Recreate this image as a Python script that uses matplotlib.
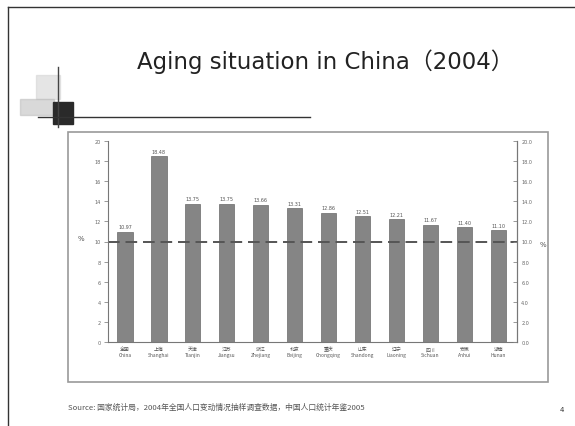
import matplotlib
matplotlib.use("Agg")
import matplotlib.pyplot as plt
from matplotlib.patches import Rectangle
from matplotlib.lines import Line2D
import numpy as np

plt.rcParams['font.family'] = ['DejaVu Sans', 'Noto Sans CJK SC']

# data (share of population aged 60+, %)
regions = ['全国', '上海', '天津', '江苏', '浙江', '北京',
           '重庆', '山东', '辽宁', '四川', '安徽', '湖南']
regions_en = ['China', 'Shanghai', 'Tianjin', 'Jiangsu', 'Zhejiang', 'Beijing',
              'Chongqing', 'Shandong', 'Liaoning', 'Sichuan', 'Anhui', 'Hunan']
values = [10.97, 18.48, 13.75, 13.75, 13.66, 13.31,
          12.86, 12.51, 12.21, 11.67, 11.40, 11.10]
yticks = [0, 2, 4, 6, 8, 10, 12, 14, 16, 18, 20]
threshold = 10

W, H = 575, 427
fig = plt.figure(figsize=(W / 100, H / 100), dpi=100)

def px(x0, y0, x1, y1):
    # pixel box (top-left origin) -> figure fraction rect
    return [x0 / W, 1 - y1 / H, (x1 - x0) / W, (y1 - y0) / H]

# slide border
fig.add_artist(Line2D([8 / W, 1], [1 - 8 / H, 1 - 8 / H], color='#333333', lw=1.0))
fig.add_artist(Line2D([8 / W, 8 / W], [1 - 8 / H, 0], color='#333333', lw=1.0))

# decoration top-left
fig.add_artist(Rectangle((36 / W, 1 - 100 / H), 24 / W, 24 / H, color='#d5d5d5', alpha=0.6))
fig.add_artist(Rectangle((20 / W, 1 - 116 / H), 34 / W, 16 / H, color='#bbbbbb', alpha=0.55))
fig.add_artist(Rectangle((53 / W, 1 - 125 / H), 20 / W, 22 / H, color='#2a2a2a'))
fig.add_artist(Line2D([58 / W, 58 / W], [1 - 68 / H, 1 - 128 / H], color='#444444', lw=1))
fig.add_artist(Line2D([38 / W, 310 / W], [1 - 118 / H, 1 - 118 / H], color='#333333', lw=1))

fig.text(325 / W, 1 - 62 / H, 'Aging situation in China（2004）', ha='center', va='center',
         fontsize=16.5, color='#222222')

# chart frame
fig.add_artist(Rectangle((68 / W, 1 - 383 / H), 480 / W, 250 / H, fill=False,
                         edgecolor='#9a9a9a', lw=1.2))

ax = fig.add_axes(px(108, 142, 517, 343))
x = np.arange(len(values))
bars = ax.bar(x, values, width=0.45, color='#858585', edgecolor='#6a6a6a', lw=0.5)
for xi, v in zip(x, values):
    ax.text(xi, v + 0.25, '%.2f' % v, ha='center', va='bottom', fontsize=3.5, color='#555555')
ax.axhline(threshold, color='#555555', lw=1.4, ls=(0, (6, 3)))

ax.set_xlim(-0.5, 11.55)
ax.set_ylim(0, 20)
ax.set_yticks(yticks)
ax.set_yticklabels(['%d' % t for t in yticks], fontsize=3.5, color='#666666')
ax.set_xticks(x)
ax.set_xticklabels([a + '\n' + b for a, b in zip(regions, regions_en)], fontsize=3.5,
                   color='#555555', linespacing=1.2,
                   family=['Noto Sans CJK SC', 'DejaVu Sans'])
ax.tick_params(axis='x', length=0, pad=3)
ax.tick_params(axis='y', length=3, width=0.6, color='#888888', pad=2)
ax.spines['top'].set_visible(False)
for s in ['left', 'bottom', 'right']:
    ax.spines[s].set_color('#777777')
    ax.spines[s].set_linewidth(0.8)
ax.set_ylabel('%', fontsize=5, color='#555555', rotation=0, labelpad=10)

ax2 = ax.twinx()
ax2.set_ylim(0, 20)
ax2.set_yticks(yticks)
ax2.set_yticklabels(['%.1f' % t for t in yticks], fontsize=3.5, color='#666666')
ax2.tick_params(axis='y', direction='in', length=3, width=0.6, color='#888888', pad=3)
for s in ['top', 'left', 'bottom']:
    ax2.spines[s].set_visible(False)
ax2.spines['right'].set_color('#777777')
ax2.spines['right'].set_linewidth(0.8)
ax2.set_ylabel('%', fontsize=5, color='#555555', rotation=0, labelpad=8)

fig.text(68 / W, 1 - 408 / H,
         'Source: 国家统计局，2004年全国人口变动情况抽样调查数据，中国人口统计年鉴2005',
         fontsize=5.6, color='#555555', va='center',
         family=['Noto Sans CJK SC', 'DejaVu Sans'])
fig.text(560 / W, 1 - 410 / H, '4', fontsize=5, color='#333333', va='center')

fig.savefig('out.png', dpi=100)
